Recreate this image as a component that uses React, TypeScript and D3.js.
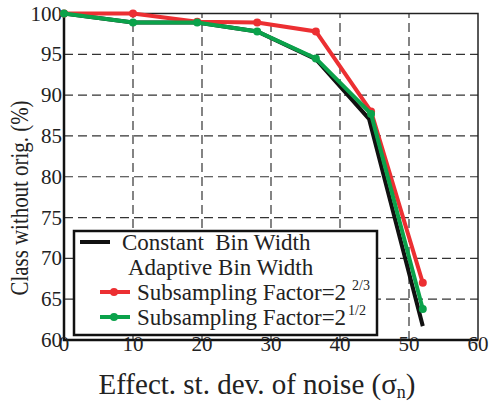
import React from 'react';
import * as d3 from 'd3';

const W = 492;
const H = 402;

// noise levels (x) and accuracy (%) per method
const xConst = [0, 10, 19.3, 28, 36.5, 44.2, 52];
const yConst = [100, 98.9, 98.9, 97.8, 94.4, 87.1, 61.7];
const xRed = [0, 10, 19.3, 28, 36.5, 44.5, 52];
const yRed = [100, 100, 99, 98.9, 97.8, 88, 67];
const xGreen = [0, 10, 19.3, 28, 36.5, 44.5, 52];
const yGreen = [100, 98.9, 98.9, 97.8, 94.5, 87.7, 63.8];

const xTicks = [0, 10, 20, 30, 40, 50, 60];
const yTicks = [60, 65, 70, 75, 80, 85, 90, 95, 100];

const RED = '#ec2f32';
const GREEN = '#0ba24b';

export default function App() {
  const x = d3.scaleLinear().domain([0, 60]).range([64, 478]);
  const y = d3.scaleLinear().domain([60, 100]).range([340, 13.5]);

  const line = d3
    .line<[number, number]>()
    .x((d) => x(d[0]))
    .y((d) => y(d[1]));

  const pts = (xs: number[], ys: number[]) =>
    xs.map((v, i) => [v, ys[i]] as [number, number]);

  const font = '"Liberation Serif", "Times New Roman", serif';

  return (
    <svg
      width={W}
      height={H}
      style={{ position: 'absolute', left: 0, top: 0, background: '#fff' }}
      fontFamily={font}
    >
      {/* grid */}
      <g stroke="#333" strokeWidth={1.2} strokeDasharray="9,5">
        {xTicks.slice(1, -1).map((t) => (
          <line key={'gx' + t} x1={x(t)} x2={x(t)} y1={y(60)} y2={y(100)} />
        ))}
        {yTicks.slice(1, -1).map((t) => (
          <line key={'gy' + t} x1={x(0)} x2={x(60)} y1={y(t)} y2={y(t)} />
        ))}
      </g>
      {/* frame */}
      <rect
        x={x(0)}
        y={y(100)}
        width={x(60) - x(0)}
        height={y(60) - y(100)}
        fill="none"
        stroke="#222"
        strokeWidth={1.5}
      />
      <path
        d={`M${x(0)},${y(100)}V${y(60)}H${x(60)}`}
        fill="none"
        stroke="#111"
        strokeWidth={2.5}
      />

      {/* y tick labels */}
      <g fontSize={21} textAnchor="end" fill="#222">
        {yTicks.map((t) => (
          <text key={'yl' + t} x={x(0) - 2} y={y(t) + 7}>
            {t}
          </text>
        ))}
      </g>
      {/* x tick labels */}
      <g fontSize={21} textAnchor="middle" fill="#222">
        {xTicks.map((t) => (
          <text key={'xl' + t} x={x(t)} y={351}>
            {t}
          </text>
        ))}
      </g>

      {/* series */}
      <path d={line(pts(xConst, yConst)) || ''} fill="none" stroke="#111" strokeWidth={4} />
      <path d={line(pts(xRed, yRed)) || ''} fill="none" stroke={RED} strokeWidth={4} />
      {pts(xRed, yRed).map((d, i) => (
        <circle key={'r' + i} cx={x(d[0])} cy={y(d[1])} r={4} fill={RED} />
      ))}
      <path d={line(pts(xGreen, yGreen)) || ''} fill="none" stroke={GREEN} strokeWidth={4} />
      {pts(xGreen, yGreen).map((d, i) => (
        <circle key={'g' + i} cx={x(d[0])} cy={y(d[1])} r={4} fill={GREEN} />
      ))}

      {/* legend */}
      <g>
        <rect x={74} y={231} width={303} height={104} fill="#fff" stroke="#111" strokeWidth={2.5} />
        <line x1={80} x2={110} y1={242} y2={242} stroke="#111" strokeWidth={4} />
        <line x1={100} x2={130} y1={292} y2={292} stroke={RED} strokeWidth={4} />
        <circle cx={114} cy={292} r={4} fill={RED} />
        <line x1={100} x2={130} y1={317} y2={317} stroke={GREEN} strokeWidth={4} />
        <circle cx={114} cy={317} r={4} fill={GREEN} />
        <g fontSize={23} fill="#222">
          <text x={122} y={250} xmlSpace="preserve">
            {'Constant  Bin Width'}
          </text>
          <text x={128} y={275}>Adaptive Bin Width</text>
          <text x={137} y={300}>
            Subsampling Factor=2
            <tspan fontSize={14} dx={6} dy={-10}>
              2/3
            </tspan>
          </text>
          <text x={137} y={325}>
            Subsampling Factor=2
            <tspan fontSize={14} dx={2} dy={-10}>
              1/2
            </tspan>
          </text>
        </g>
      </g>

      {/* axis titles */}
      <text x={257} y={394} fontSize={29} textAnchor="middle" fill="#222">
        Effect. st. dev. of noise (σ
        <tspan fontSize={18} dy={4}>
          n
        </tspan>
        <tspan dy={-4}>)</tspan>
      </text>
      <text
        transform="translate(28,198) rotate(-90)"
        fontSize={26}
        textAnchor="middle"
        textLength={195}
        lengthAdjust="spacingAndGlyphs"
        fill="#222"
      >
        Class without orig. (%)
      </text>
    </svg>
  );
}
